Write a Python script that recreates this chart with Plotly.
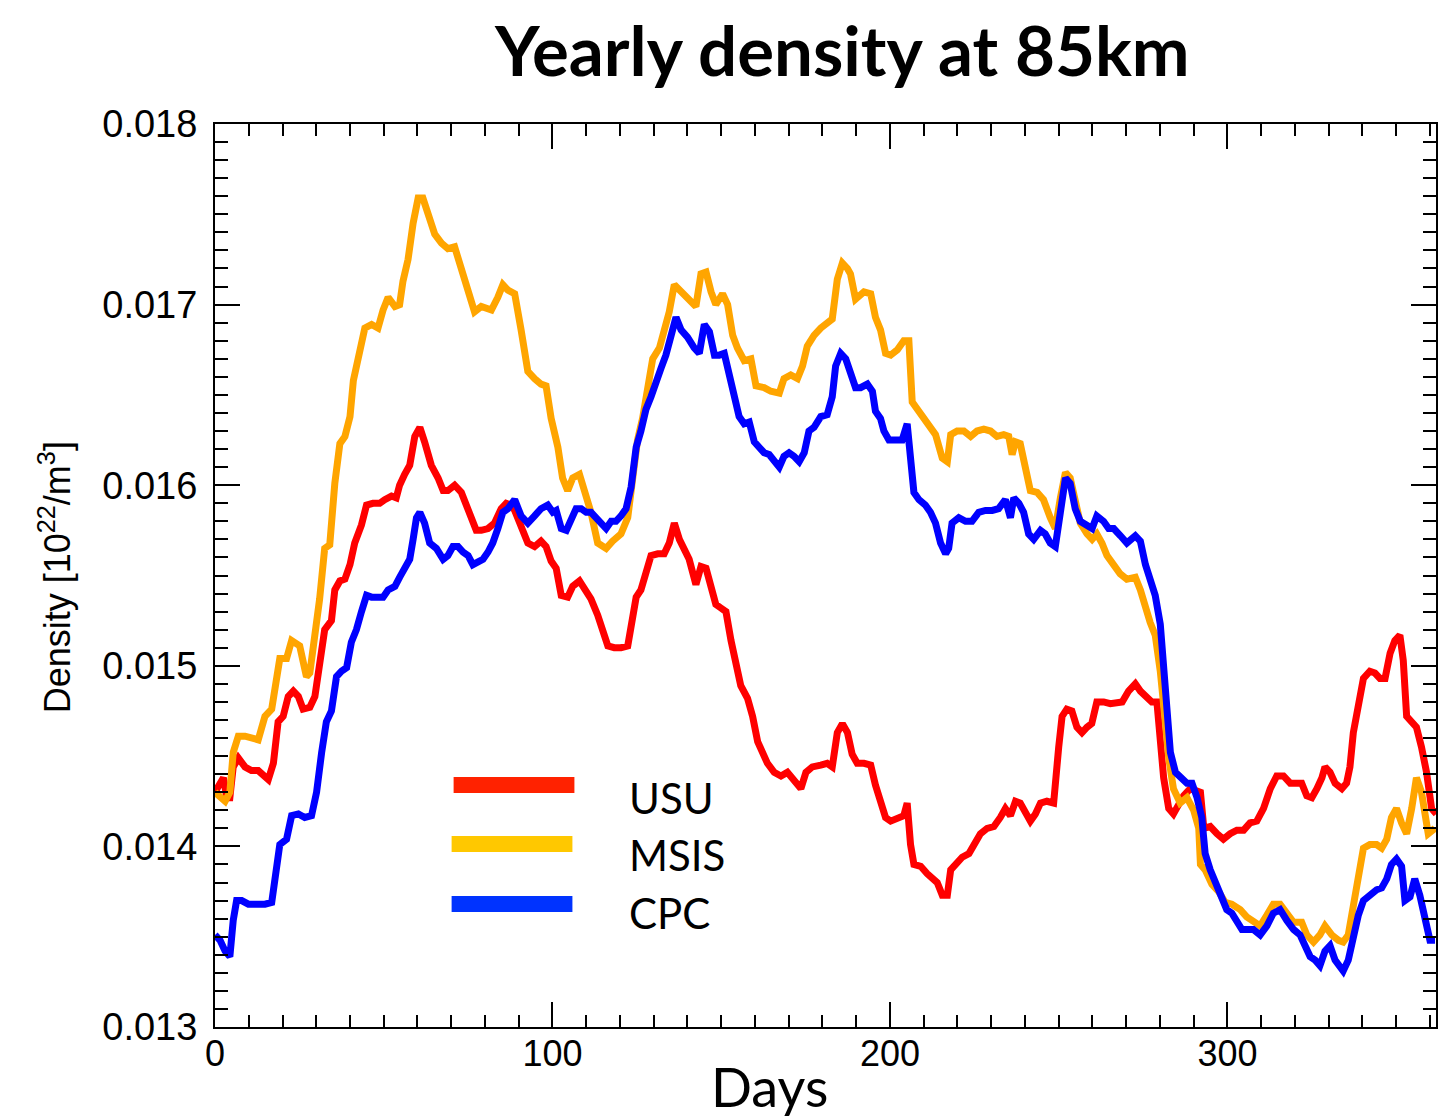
import plotly.graph_objects as go

# ---------------- data ----------------
usu_days = [0, 1.5, 2.5, 3.5, 4.4, 5.4, 6.9, 8.9, 10.8, 12.8, 14.3, 15.8, 17.3, 18.7, 20.2, 21.7, 23.2, 24.7, 26.1, 28.1,
            29.6, 31.1, 32.5, 34.5, 35.5, 37, 38.5, 40, 41.4, 43.4, 44.9, 46.8, 48.8, 50.3, 52.3, 53.7, 54.7, 56.2, 57.7, 59.2,
            60.7, 62.1, 64.1, 66.1, 67.6, 69, 71, 73, 74.5, 75.9, 77.4, 78.9, 80.9, 82.8, 84.8, 86.3, 87.8, 88.8, 90.7, 92.7,
            94.7, 96.6, 98.1, 99.6, 101.1, 102.6, 104.5, 106, 108, 109.5, 111.4, 113.4, 114.9, 116.4, 118.3, 120.3, 122.3, 123.8, 124.8, 126.2,
            127.7, 129.2, 131.2, 133.1, 134.6, 136.1, 137.6, 139.1, 140.5, 142.5, 144, 145.5, 147, 148.4, 149.9, 151.4, 152.9, 154.3, 155.8, 157.8,
            159.3, 160.8, 162.2, 163.7, 165.7, 167.7, 169.6, 171.6, 173.6, 175.1, 177, 179.5, 181.4, 182.9, 184.4, 185.9, 187.4, 188.8, 190.3, 192.3,
            194.3, 195.7, 197.2, 198.7, 200.2, 202.2, 204.1, 205.1, 206.1, 207.1, 209.1, 211, 212.5, 214, 215.5, 217, 218, 219.4, 221.4, 223.4,
            224.8, 226.8, 228.8, 230.8, 232.7, 234.2, 235.7, 237.2, 238.6, 240.1, 241.6, 243.1, 244.6, 246.5, 248.5, 250, 251, 252.4, 253.9, 255.4,
            256.9, 258.4, 259.8, 261.3, 263.3, 265.3, 268.8, 270.7, 272.7, 274.2, 275.7, 277.6, 279.1, 280.1, 281.1, 282.6, 284, 285.5, 287, 289,
            291, 292, 293, 294.9, 296.9, 298.8, 300.8, 302.8, 304.8, 306.7, 308.7, 310.7, 312.7, 314.6, 316.6, 318.6, 320.5, 322, 323.5, 325,
            326.5, 328, 328.9, 330.4, 331.9, 333.9, 335.3, 336.3, 337.3, 338.8, 340.3, 342.2, 343.7, 345.2, 346.7, 348.2, 349.6, 351.1, 352.1, 353.1,
            354.6, 356, 357.5, 359, 360.5, 361.9]
usu_vals = [0.01430, 0.01434, 0.01438, 0.01427, 0.01427, 0.01444, 0.01449, 0.01444, 0.01442, 0.01442, 0.01439, 0.01437, 0.01446, 0.01469, 0.01472, 0.01483, 0.01486, 0.01483, 0.01476, 0.01477,
            0.01483, 0.01506, 0.01520, 0.01525, 0.01542, 0.01547, 0.01548, 0.01556, 0.01568, 0.01578, 0.01589, 0.01590, 0.01590, 0.01592, 0.01594, 0.01593, 0.01600, 0.01606, 0.01611, 0.01627,
            0.01632, 0.01624, 0.01611, 0.01604, 0.01597, 0.01597, 0.01600, 0.01596, 0.01589, 0.01582, 0.01575, 0.01575, 0.01576, 0.01579, 0.01587, 0.01590, 0.01589, 0.01586, 0.01576, 0.01568,
            0.01566, 0.01569, 0.01566, 0.01558, 0.01554, 0.01539, 0.01538, 0.01544, 0.01547, 0.01542, 0.01537, 0.01528, 0.01520, 0.01511, 0.01510, 0.01510, 0.01511, 0.01525, 0.01538, 0.01542,
            0.01551, 0.01561, 0.01562, 0.01562, 0.01568, 0.01579, 0.01570, 0.01565, 0.01559, 0.01545, 0.01555, 0.01554, 0.01545, 0.01534, 0.01532, 0.01530, 0.01514, 0.01500, 0.01489, 0.01482,
            0.01472, 0.01458, 0.01452, 0.01446, 0.01441, 0.01439, 0.01441, 0.01437, 0.01432, 0.01441, 0.01444, 0.01445, 0.01446, 0.01444, 0.01463, 0.01468, 0.01463, 0.01451, 0.01446, 0.01446,
            0.01445, 0.01434, 0.01425, 0.01416, 0.01414, 0.01416, 0.01417, 0.01424, 0.01401, 0.01390, 0.01389, 0.01385, 0.01383, 0.01380, 0.01373, 0.01373, 0.01387, 0.01390, 0.01394, 0.01396,
            0.01400, 0.01407, 0.01410, 0.01411, 0.01416, 0.01421, 0.01417, 0.01425, 0.01424, 0.01418, 0.01414, 0.01418, 0.01424, 0.01425, 0.01424, 0.01455, 0.01472, 0.01476, 0.01475, 0.01466,
            0.01463, 0.01466, 0.01468, 0.01480, 0.01480, 0.01479, 0.01480, 0.01486, 0.01490, 0.01486, 0.01483, 0.01480, 0.01480, 0.01458, 0.01438, 0.01421, 0.01418, 0.01423, 0.01428, 0.01432,
            0.01431, 0.01430, 0.01410, 0.01411, 0.01407, 0.01404, 0.01407, 0.01409, 0.01409, 0.01413, 0.01414, 0.01421, 0.01432, 0.01439, 0.01439, 0.01435, 0.01435, 0.01435, 0.01428, 0.01427,
            0.01432, 0.01438, 0.01444, 0.01441, 0.01435, 0.01432, 0.01435, 0.01444, 0.01463, 0.01477, 0.01493, 0.01497, 0.01496, 0.01493, 0.01493, 0.01507, 0.01514, 0.01517, 0.01503, 0.01472,
            0.01469, 0.01466, 0.01455, 0.01441, 0.01421, 0.01418]

msis_days = [0, 1.5, 3, 4.4, 5.4, 6.9, 8.9, 12.8, 14.8, 16.8, 19.2, 21.2, 22.7, 25.1, 27.1, 28.1, 29.6, 31, 32.5, 34,
             35.5, 37, 38.5, 40, 41, 42.4, 44.4, 46.4, 48.3, 49.8, 51.3, 53.3, 54.7, 55.7, 57.2, 58.7, 60.2, 61.6, 63.1, 65.1,
             67.1, 69, 71, 73, 75, 76.9, 78.9, 81.9, 83.8, 85.3, 86.8, 88.8, 90.7, 92.7, 94.7, 96.6, 98.1, 99.6, 101.6, 103,
             104.5, 106, 108, 109.5, 111.4, 113.4, 115.9, 117.8, 120.3, 122.3, 123.8, 125.2, 126.7, 128.2, 129.7, 131.7, 133.1, 134.6, 136.1, 138.1,
             140, 142.5, 144, 145.5, 147, 148.4, 150.4, 151.9, 153.4, 154.8, 156.8, 158.8, 160.3, 162.7, 164.7, 167.2, 168.6, 170.6, 172.6, 174.1,
             175.5, 177.5, 179.5, 181.4, 182.9, 184.4, 185.9, 187.4, 188.3, 189.8, 192.3, 194.3, 195.7, 197.2, 198.7, 200.2, 202.2, 204.1, 205.6, 206.6,
             208.1, 210, 212, 213.5, 215.5, 217, 218, 219.9, 221.9, 223.9, 225.8, 227.8, 229.8, 231.7, 233.7, 235.2, 236.2, 237.2, 238.6, 240.1,
             241.6, 243.6, 245.5, 247.5, 249, 250.5, 252, 253.4, 254.9, 256.4, 258.4, 259.9, 261.3, 262.8, 264.3, 266.3, 268.2, 270.2, 272.7, 274.2,
             275.7, 277.1, 278.6, 280.1, 281.6, 282.6, 284, 286, 288, 290, 291.5, 292, 293.4, 295.4, 297.4, 299.3, 301.3, 303.8, 305.7, 307.7,
             309.7, 311.7, 313.6, 315.6, 317.6, 319.6, 322, 323.5, 325.5, 327.4, 328.9, 330.9, 332.9, 334.3, 335.8, 337.3, 338.8, 340.3, 342.2, 344.2,
             345.7, 347.2, 348.6, 350.1, 351.6, 353.1, 354.6, 356, 357.5, 359.5, 361.5]
msis_vals = [0.01430, 0.01427, 0.01425, 0.01430, 0.01452, 0.01461, 0.01461, 0.01459, 0.01472, 0.01476, 0.01504, 0.01504, 0.01514, 0.01511, 0.01494, 0.01496, 0.01514, 0.01537, 0.01565, 0.01567,
             0.01601, 0.01623, 0.01627, 0.01638, 0.01658, 0.01669, 0.01687, 0.01689, 0.01687, 0.01697, 0.01704, 0.01699, 0.01700, 0.01713, 0.01725, 0.01745, 0.01759, 0.01759, 0.01749, 0.01739,
             0.01734, 0.01731, 0.01732, 0.01720, 0.01708, 0.01696, 0.01699, 0.01697, 0.01704, 0.01711, 0.01708, 0.01706, 0.01686, 0.01663, 0.01659, 0.01656, 0.01655, 0.01637, 0.01621, 0.01604,
             0.01597, 0.01604, 0.01606, 0.01596, 0.01585, 0.01568, 0.01565, 0.01569, 0.01573, 0.01582, 0.01601, 0.01625, 0.01637, 0.01655, 0.01670, 0.01676, 0.01686, 0.01696, 0.01711, 0.01707,
             0.01704, 0.01699, 0.01717, 0.01718, 0.01707, 0.01700, 0.01706, 0.01700, 0.01683, 0.01676, 0.01669, 0.01670, 0.01655, 0.01654, 0.01652, 0.01651, 0.01659, 0.01661, 0.01659, 0.01666,
             0.01677, 0.01683, 0.01687, 0.01690, 0.01692, 0.01714, 0.01723, 0.01720, 0.01717, 0.01703, 0.01707, 0.01706, 0.01693, 0.01686, 0.01673, 0.01672, 0.01675, 0.01680, 0.01680, 0.01646,
             0.01642, 0.01638, 0.01631, 0.01628, 0.01615, 0.01613, 0.01628, 0.01630, 0.01630, 0.01627, 0.01630, 0.01631, 0.01630, 0.01627, 0.01628, 0.01627, 0.01617, 0.01624, 0.01623, 0.01608,
             0.01597, 0.01596, 0.01592, 0.01582, 0.01576, 0.01593, 0.01607, 0.01604, 0.01593, 0.01579, 0.01573, 0.01570, 0.01573, 0.01568, 0.01561, 0.01556, 0.01551, 0.01548, 0.01549, 0.01542,
             0.01531, 0.01524, 0.01517, 0.01497, 0.01469, 0.01449, 0.01432, 0.01424, 0.01427, 0.01420, 0.01410, 0.01390, 0.01387, 0.01379, 0.01375, 0.01369, 0.01368, 0.01365, 0.01361, 0.01359,
             0.01356, 0.01362, 0.01368, 0.01368, 0.01363, 0.01358, 0.01358, 0.01351, 0.01347, 0.01351, 0.01356, 0.01351, 0.01348, 0.01347, 0.01351, 0.01368, 0.01385, 0.01399, 0.01401, 0.01401,
             0.01399, 0.01404, 0.01416, 0.01421, 0.01413, 0.01407, 0.01421, 0.01438, 0.01430, 0.01407, 0.01410]

cpc_days = [0, 1.5, 3, 4.4, 5.4, 6.4, 7.9, 9.9, 12.8, 14.8, 16.8, 18.2, 19.2, 21.2, 22.7, 24.7, 26.6, 28.6, 30.1, 31.6,
            33, 34.5, 36, 37.5, 39, 40.4, 41.9, 43.4, 44.9, 46.4, 48.3, 49.8, 51.3, 53.3, 54.7, 56.2, 57.7, 58.7, 59.7, 60.7,
            62.1, 63.6, 65.6, 67.6, 69, 70.5, 72, 73.5, 75, 76.4, 77.9, 79.4, 80.9, 82.3, 83.8, 85.3, 86.8, 88.8, 90.7, 92.7,
            94.7, 96.6, 98.6, 100.1, 101.1, 102.6, 104.1, 105.5, 107, 108.5, 110, 111.4, 112.9, 114.4, 115.9, 117.4, 118.8, 120.3, 121.8, 123.3,
            124.8, 126.2, 127.7, 129.2, 130.7, 132.2, 133.6, 135.1, 136.6, 138.1, 140, 142, 143.5, 145, 146.5, 148, 149.4, 150.9, 152.4, 153.9,
            155.3, 156.8, 158.3, 159.8, 161.2, 162.7, 164.2, 165.7, 167.2, 168.6, 170.1, 171.6, 173.1, 174.6, 176, 177.5, 179.5, 181.4, 182.9, 183.9,
            185.4, 186.9, 188.3, 189.8, 191.3, 193.3, 194.8, 195.7, 197.2, 198.2, 199.7, 201.7, 203.6, 205.1, 206.1, 207.1, 208.6, 210.5, 212, 213.5,
            215, 216.5, 217.4, 218.4, 220.4, 222.4, 224.3, 226.3, 228.3, 230.3, 232.2, 234.2, 235.7, 236.7, 238.2, 239.6, 241.1, 242.6, 244.6, 246,
            247.5, 249, 250.5, 252, 253.4, 254.9, 256.4, 258.4, 259.9, 261.3, 263.3, 264.8, 266.3, 268.3, 270.2, 272.7, 274.2, 275.7, 277.1, 278.6,
            280.1, 281.1, 282.1, 283.1, 284.6, 286, 288, 289.5, 291, 292.4, 293.4, 294.9, 296.4, 297.9, 299.8, 301.3, 302.8, 304.3, 305.7, 307.7,
            309.7, 311.7, 313.6, 315.6, 317.6, 319.6, 321.5, 323, 324.5, 326, 327.4, 328.9, 330.4, 331.9, 333.4, 334.3, 335.8, 337.3, 338.8, 340.3,
            342.2, 344.2, 345.7, 347.2, 348.6, 350.1, 351.6, 352.6, 354.1, 355.5, 357, 358.5, 360, 361.5]
cpc_vals = [0.01351, 0.01348, 0.01342, 0.01339, 0.01359, 0.01370, 0.01370, 0.01368, 0.01368, 0.01368, 0.01369, 0.01385, 0.01401, 0.01404, 0.01417, 0.01418, 0.01416, 0.01417, 0.01430, 0.01452,
            0.01469, 0.01475, 0.01494, 0.01497, 0.01499, 0.01513, 0.01520, 0.01530, 0.01539, 0.01538, 0.01538, 0.01538, 0.01542, 0.01544, 0.01549, 0.01555, 0.01559, 0.01570, 0.01582, 0.01585,
            0.01579, 0.01568, 0.01565, 0.01559, 0.01561, 0.01566, 0.01566, 0.01563, 0.01561, 0.01556, 0.01558, 0.01559, 0.01563, 0.01568, 0.01576, 0.01585, 0.01587, 0.01592, 0.01583, 0.01579,
            0.01583, 0.01587, 0.01589, 0.01585, 0.01586, 0.01576, 0.01575, 0.01582, 0.01587, 0.01587, 0.01585, 0.01585, 0.01582, 0.01580, 0.01576, 0.01580, 0.01580, 0.01583, 0.01587, 0.01599,
            0.01621, 0.01630, 0.01642, 0.01649, 0.01658, 0.01665, 0.01672, 0.01683, 0.01693, 0.01686, 0.01682, 0.01676, 0.01673, 0.01689, 0.01685, 0.01672, 0.01672, 0.01673, 0.01661, 0.01646,
            0.01638, 0.01634, 0.01635, 0.01624, 0.01621, 0.01618, 0.01617, 0.01614, 0.01610, 0.01616, 0.01618, 0.01616, 0.01613, 0.01618, 0.01630, 0.01632, 0.01638, 0.01639, 0.01649, 0.01666,
            0.01673, 0.01670, 0.01661, 0.01654, 0.01654, 0.01656, 0.01652, 0.01641, 0.01637, 0.01630, 0.01625, 0.01625, 0.01625, 0.01634, 0.01610, 0.01596, 0.01592, 0.01589, 0.01585, 0.01579,
            0.01568, 0.01562, 0.01565, 0.01579, 0.01582, 0.01580, 0.01580, 0.01585, 0.01586, 0.01586, 0.01587, 0.01592, 0.01582, 0.01593, 0.01590, 0.01585, 0.01573, 0.01570, 0.01575, 0.01573,
            0.01568, 0.01566, 0.01585, 0.01604, 0.01601, 0.01587, 0.01580, 0.01578, 0.01576, 0.01583, 0.01580, 0.01576, 0.01576, 0.01572, 0.01568, 0.01572, 0.01569, 0.01556, 0.01548, 0.01539,
            0.01523, 0.01497, 0.01469, 0.01452, 0.01441, 0.01438, 0.01435, 0.01435, 0.01427, 0.01416, 0.01396, 0.01387, 0.01380, 0.01373, 0.01365, 0.01363, 0.01359, 0.01354, 0.01354, 0.01354,
            0.01351, 0.01356, 0.01363, 0.01365, 0.01359, 0.01354, 0.01351, 0.01345, 0.01339, 0.01337, 0.01334, 0.01342, 0.01345, 0.01337, 0.01334, 0.01331, 0.01337, 0.01351, 0.01362, 0.01370,
            0.01373, 0.01376, 0.01377, 0.01382, 0.01390, 0.01393, 0.01389, 0.01370, 0.01372, 0.01382, 0.01373, 0.01362, 0.01348, 0.01348]

series_names = ["USU", "MSIS", "CPC"]
line_colors = ["rgb(255,0,0)", "rgb(255,165,0)", "rgb(0,0,255)"]
legend_colors = ["#ff2200", "#ffc800", "#0033ff"]
y_ticks = [0.013, 0.014, 0.015, 0.016, 0.017, 0.018]
x_ticks = [0, 100, 200, 300]

# ---------------- figure ----------------
fig = go.Figure()
for d, v, name, col in [(usu_days, usu_vals, "USU", line_colors[0]),
                        (msis_days, msis_vals, "MSIS", line_colors[1]),
                        (cpc_days, cpc_vals, "CPC", line_colors[2])]:
    fig.add_trace(go.Scatter(x=d, y=v, mode="lines", name=name,
                             line=dict(color=col, width=7), showlegend=False))

L, R, T, B = 215, 1438, 124, 1027
W, H = 1439, 1120
pw, ph = R - L, B - T

def px(xp):
    return (xp - L) / pw

def py(yp):
    return (B - yp) / ph

xtickfont = dict(family="Liberation Sans, Arial, sans-serif", size=36, color="black")
ytickfont = dict(family="Liberation Sans, Arial, sans-serif", size=38, color="black")

fig.update_layout(
    width=W, height=H,
    margin=dict(l=L, r=W - R, t=T, b=H - B, pad=0),
    paper_bgcolor="white", plot_bgcolor="white",
    xaxis=dict(range=[0, 361.8], tickvals=x_ticks, ticks="inside", ticklen=25, tickwidth=2,
               tickcolor="black", showline=True, linecolor="black", linewidth=2, mirror="allticks",
               showgrid=False, zeroline=False, tickfont=xtickfont, ticklabelstandoff=-6,
               minor=dict(dtick=10, tick0=0, ticks="inside", ticklen=12, tickwidth=2, tickcolor="black", showgrid=False)),
    yaxis=dict(range=[0.013, 0.018], tickvals=y_ticks, tickformat=".3f", ticks="inside", ticklen=25, tickwidth=2,
               tickcolor="black", showline=True, linecolor="black", linewidth=2, mirror="allticks",
               showgrid=False, zeroline=False, tickfont=ytickfont, ticklabelstandoff=8,
               minor=dict(dtick=0.0001, tick0=0.013, ticks="inside", ticklen=13, tickwidth=2, tickcolor="black", showgrid=False)),
)

annotations = [
    dict(text="<b>Yearly density at 85km</b>", x=px(843), y=py(50), xref="paper", yref="paper",
         showarrow=False, xanchor="center", yanchor="middle",
         font=dict(family="Lato, Open Sans, sans-serif", size=69, color="black")),
    dict(text="Days", x=px(770), y=py(1086), xref="paper", yref="paper",
         showarrow=False, xanchor="center", yanchor="middle",
         font=dict(family="Lato, Open Sans, sans-serif", size=54, color="black")),
    dict(text="Density [10<sup>22</sup>/m<sup>3</sup>]", x=px(55), y=py(577), xref="paper", yref="paper",
         showarrow=False, xanchor="center", yanchor="middle", textangle=-90,
         font=dict(family="Liberation Sans, Arial, sans-serif", size=36, color="black")),
]

bar_x = [(454, 575), (452, 573), (452, 573)]
bar_y = [(777, 793), (836, 852), (896, 912)]
text_y = [798, 855, 913]
shapes = []
for i in range(3):
    shapes.append(dict(type="rect", xref="paper", yref="paper",
                       x0=px(bar_x[i][0]), x1=px(bar_x[i][1]), y0=py(bar_y[i][1]), y1=py(bar_y[i][0]),
                       fillcolor=legend_colors[i], line=dict(width=0)))
    annotations.append(dict(text=series_names[i], x=px(628), y=py(text_y[i]), xref="paper", yref="paper",
                            showarrow=False, xanchor="left", yanchor="middle",
                            font=dict(family="Lato, Open Sans, sans-serif", size=42, color="black")))

fig.update_layout(annotations=annotations, shapes=shapes)
fig.write_html("out.html", config={"responsive": False, "displayModeBar": False},
               post_script="document.body.style.margin='0';document.body.style.overflow='hidden';")
